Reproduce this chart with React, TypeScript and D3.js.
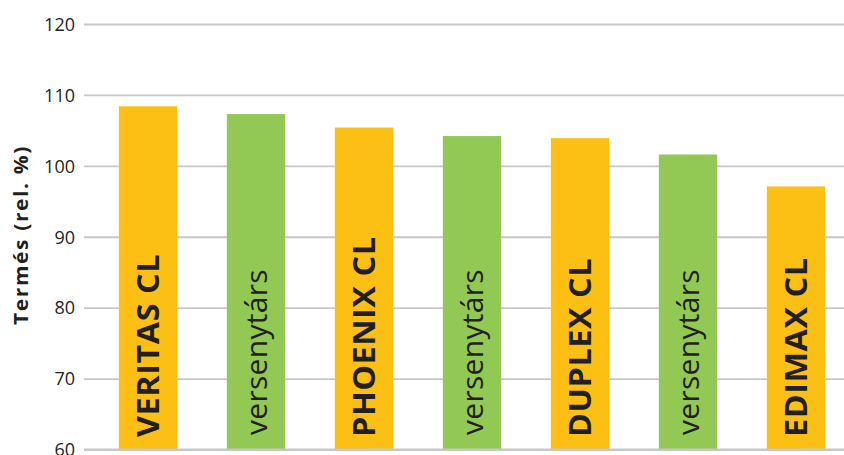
import { useEffect, useRef } from 'react';
import * as d3 from 'd3';

// Relative yield per variety (%)
const categories = ['VERITAS CL', 'versenytárs', 'PHOENIX CL', 'versenytárs ', 'DUPLEX CL', 'versenytárs  ', 'EDIMAX CL'];
const values = [108.4, 107.3, 105.4, 104.2, 103.9, 101.6, 97.1];
const isOwn = [true, false, true, false, true, false, true];
const yTicks = [60, 70, 80, 90, 100, 110, 120];
const yLabel = 'Termés (rel. %)';

const W = 844;
const H = 455;
const YELLOW = '#fcc014';
const GREEN = '#92c954';
const GRID = '#c8c8c8';
const INK = '#231f20';
const FONT = '"Open Sans", sans-serif';

export default function App() {
  const svgRef = useRef<SVGSVGElement>(null);

  useEffect(() => {
    if (!svgRef.current) return;
    const svg = d3.select(svgRef.current);
    svg.selectAll('*').remove();

    const y = d3.scaleLinear().domain([60, 120]).range([449.5, 24]);
    const x = d3
      .scaleBand<string>()
      .domain(categories)
      .range([94, 850])
      .paddingInner(0.46)
      .paddingOuter(0.23);

    // gridlines + tick labels
    const yAxis = svg
      .append('g')
      .attr('transform', 'translate(84,0)')
      .call(d3.axisLeft(y).tickValues(yTicks).tickSize(-800).tickPadding(9));
    yAxis.select('.domain').remove();
    yAxis.selectAll('line').attr('stroke', GRID).attr('stroke-width', 1.8);
    yAxis
      .selectAll('text')
      .attr('fill', INK)
      .attr('font-family', FONT)
      .attr('font-size', 18)
      .attr('dy', '0.35em');

    // bars
    const bars = svg.append('g');
    categories.forEach((c, i) => {
      bars
        .append('rect')
        .attr('x', x(c)!)
        .attr('y', y(values[i]))
        .attr('width', x.bandwidth())
        .attr('height', y(60) - y(values[i]))
        .attr('fill', isOwn[i] ? YELLOW : GREEN);
    });

    // bottom line drawn over bars
    svg
      .append('line')
      .attr('x1', 84)
      .attr('x2', W)
      .attr('y1', y(60))
      .attr('y2', y(60))
      .attr('stroke', GRID)
      .attr('stroke-width', 1.8);

    // labels inside bars (bold names are a bit wider in the original face)
    categories.forEach((c, i) => {
      const cx = x(c)! + x.bandwidth() / 2;
      svg
        .append('text')
        .attr(
          'transform',
          isOwn[i]
            ? `translate(${cx + 11},437) rotate(-90) scale(1.08,1)`
            : `translate(${cx + 11},435) rotate(-90)`
        )
        .attr('font-family', FONT)
        .attr('font-weight', isOwn[i] ? 700 : 400)
        .attr('font-size', 30)
        .attr('letter-spacing', isOwn[i] ? 0.5 : 0.3)
        .attr('fill', INK)
        .text(c.trim());
    });

    // y-axis title
    svg
      .append('text')
      .attr('transform', `translate(28,235) rotate(-90) scale(1.1,1)`)
      .attr('text-anchor', 'middle')
      .attr('font-family', FONT)
      .attr('font-weight', 700)
      .attr('font-size', 19)
      .attr('letter-spacing', 1.5)
      .attr('fill', INK)
      .text(yLabel);
  }, []);

  return (
    <svg
      ref={svgRef}
      width={W}
      height={H}
      style={{ position: 'fixed', left: 0, top: 0, background: '#fff' }}
    />
  );
}
